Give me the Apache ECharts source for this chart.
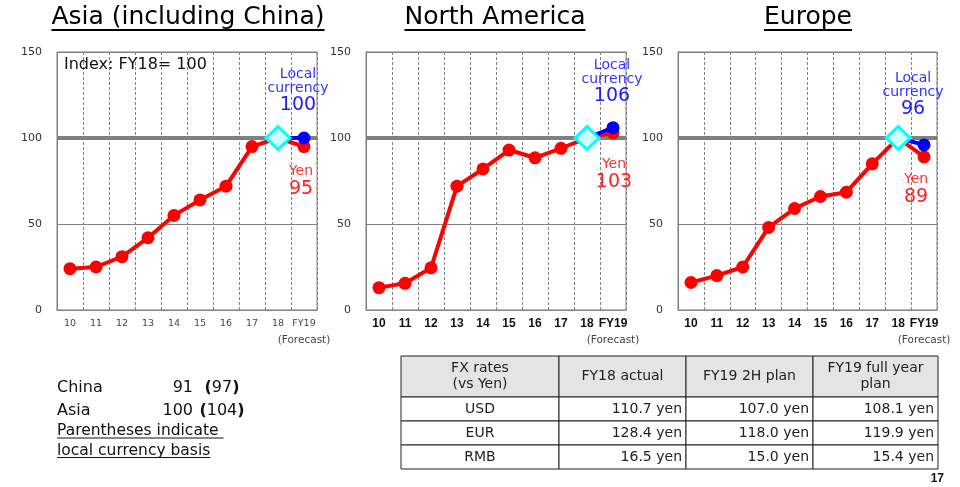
<!DOCTYPE html>
<html><head><meta charset="utf-8">
<script src="https://cdn.jsdelivr.net/npm/echarts@6/dist/echarts.min.js"></script>
<style>html,body{margin:0;padding:0;background:#fff}#c{width:960px;height:487px}</style>
</head><body><div id="c"></div>
<script>
// ---------- data ----------
const categories = ['10','11','12','13','14','15','16','17','18','FY19'];
const forecastNote = '(Forecast)';
const indexBase = 100;
const asiaYen   = [24, 25, 31, 42, 55, 64, 72, 95, 100, 95];
const asiaLocal = [null, null, null, null, null, null, null, null, 100, 100];
const naYen     = [13, 15.5, 24.5, 72, 82, 93, 88.5, 94, 100, 103];
const naLocal   = [null, null, null, null, null, null, null, null, 100, 106];
const euYen     = [16, 20, 25, 48, 59, 66, 68.5, 85, 100, 89];
const euLocal   = [null, null, null, null, null, null, null, null, 100, 96];
const panelTitles = ['Asia (including China)', 'North America', 'Europe'];
const yMin = 0, yMax = 150, yInterval = 50;
const indexNote = 'Index: FY18= 100';
const localLabelText = ['Local', 'currency'];
const yenLabelText = 'Yen';

const fxHeader = ['FX rates\n(vs Yen)', 'FY18 actual', 'FY19 2H plan', 'FY19 full year\nplan'];
const fxCurrencies = ['USD', 'EUR', 'RMB'];
const fy18Actual = ['110.7 yen', '128.4 yen', '16.5 yen'];
const fy19H2Plan = ['107.0 yen', '118.0 yen', '15.0 yen'];
const fy19FullPlan = ['108.1 yen', '119.9 yen', '15.4 yen'];

const noteRegions = ['China', 'Asia'];
const noteYen = [91, 100];
const noteLocal = [97, 104];
const noteLines = ['Parentheses indicate ', 'local currency basis'];
const pageNumber = '17';

// ---------- layout / style ----------
const FONT = 'DejaVu Sans';
const panels = [
  {yen: asiaYen, local: asiaLocal, left: 57, width: 260, titleCenter: 188, boldX: false,
   localOff: [-6, 0], localDist: 16, yenOff: [-3, 0], yenDist: 10},
  {yen: naYen, local: naLocal, left: 366, width: 260, titleCenter: 495, boldX: true,
   localOff: [-1, 0], localDist: 15, yenOff: [1, 0], yenDist: 17},
  {yen: euYen, local: euLocal, left: 678, width: 259, titleCenter: 808, boldX: true,
   localOff: [-11, 0], localDist: 19, yenOff: [-8, 0], yenDist: 8}
];
const gridTop = 52, gridHeight = 258;

const mctx = document.createElement('canvas').getContext('2d');
function tw(text, font) { mctx.font = font; return mctx.measureText(text).width; }

const grids = [], xAxes = [], yAxes = [], series = [], graphics = [];

panels.forEach((p, i) => {
  grids.push({left: p.left, top: gridTop, width: p.width, height: gridHeight,
    show: true, borderColor: '#808080', borderWidth: 1, backgroundColor: 'transparent'});
  const xLabel = p.boldX
    ? {fontSize: 12, fontWeight: 'bold', color: '#111', fontFamily: 'Liberation Sans Narrow, Liberation Sans, sans-serif'}
    : {fontSize: 9.5, color: '#444', fontFamily: FONT};
  xAxes.push({
    type: 'category', gridIndex: i, data: categories, boundaryGap: true,
    axisTick: {show: false},
    axisLine: {show: true, lineStyle: {color: '#808080', width: 1}},
    splitLine: {show: true, lineStyle: {color: '#808080', width: 1, type: [3, 2]}},
    axisLabel: Object.assign({
      interval: 0, margin: 6, lineHeight: 16,
      formatter: v => v === categories[categories.length - 1] ? v + '\n{f|' + forecastNote + '}' : v,
      rich: {f: {fontSize: 10.5, fontWeight: 'normal', color: '#444', fontFamily: FONT, lineHeight: 16}}
    }, xLabel)
  });
  yAxes.push({
    type: 'value', gridIndex: i, min: yMin, max: yMax, interval: yInterval,
    axisTick: {show: false},
    axisLine: {show: true, lineStyle: {color: '#808080'}},
    splitLine: {show: true, lineStyle: {color: '#808080', width: 1}},
    axisLabel: {fontSize: 11, color: '#333', fontFamily: FONT, margin: 15}
  });
  const last = categories.length - 1;
  const yenData = p.yen.map((v, k) => k === last ? {value: v, label: {
    show: true, position: 'bottom', distance: p.yenDist, offset: p.yenOff,
    formatter: '{y|' + yenLabelText + '}\n{v|' + v + '}',
    rich: {y: {fontSize: 14, color: '#ff3333', fontFamily: FONT, lineHeight: 16},
           v: {fontSize: 19, color: '#ff2020', fontFamily: FONT, lineHeight: 20}}
  }} : v);
  const localData = p.local.map((v, k) => k === last ? {value: v, label: {
    show: true, position: 'top', distance: p.localDist, offset: p.localOff,
    formatter: localLabelText.map(t => '{a|' + t + '}').join('\n') + '\n{b|' + v + '}',
    rich: {a: {fontSize: 14, color: '#3333ff', fontFamily: FONT, lineHeight: 14},
           b: {fontSize: 19, color: '#2020ff', fontFamily: FONT, lineHeight: 20}}
  }} : v);
  series.push({
    type: 'line', xAxisIndex: i, yAxisIndex: i, data: yenData, z: 3,
    symbol: 'circle', symbolSize: 13, showSymbol: true,
    lineStyle: {color: '#ff0000', width: 4}, itemStyle: {color: '#ff0000'},
    markLine: {silent: true, symbol: 'none', z: 1, label: {show: false},
      lineStyle: {color: '#808080', width: 4, type: 'solid'}, data: [{yAxis: indexBase}]}
  });
  series.push({
    type: 'line', xAxisIndex: i, yAxisIndex: i, data: localData, z: 4,
    symbol: 'circle', symbolSize: 13, connectNulls: false,
    lineStyle: {color: '#0000ff', width: 4}, itemStyle: {color: '#0000ff'}
  });
  const baseIdx = categories.indexOf('18');
  series.push({
    type: 'scatter', xAxisIndex: i, yAxisIndex: i, z: 5,
    data: [[baseIdx, p.yen[baseIdx]]],
    symbol: 'diamond', symbolSize: [24, 23],
    itemStyle: {color: '#ccffff', borderColor: '#00ffff', borderWidth: 3, opacity: 1}
  });
  // title with underline
  const tFont = '25px ' + FONT;
  const w = tw(panelTitles[i], tFont);
  graphics.push({type: 'text', x: p.titleCenter, y: 17, style: {text: panelTitles[i], font: tFont, fill: '#000',
    align: 'center', verticalAlign: 'middle', textAlign: 'center', textVerticalAlign: 'middle'}});
  graphics.push({type: 'line', shape: {x1: p.titleCenter - w / 2, y1: 30, x2: p.titleCenter + w / 2, y2: 30},
    style: {stroke: '#000', lineWidth: 2}});
});

graphics.push({type: 'text', x: 64, y: 65, z: 10, style: {text: indexNote, font: '16px ' + FONT, fill: '#111',
  align: 'left', verticalAlign: 'middle', textAlign: 'left', textVerticalAlign: 'middle'}});

// ---------- bottom-left notes ----------
const nFont = '16px ' + FONT;
noteRegions.forEach((r, k) => {
  const y = 388 + k * 22.5;
  graphics.push({type: 'text', x: 57, y, style: {text: r, font: nFont, fill: '#111',
    align: 'left', verticalAlign: 'middle', textAlign: 'left', textVerticalAlign: 'middle'}});
  graphics.push({type: 'text', x: 193, y, style: {text: String(noteYen[k]), font: nFont, fill: '#111',
    align: 'right', verticalAlign: 'middle', textAlign: 'right', textVerticalAlign: 'middle'}});
  graphics.push({type: 'text', x: 222, y, style: {text: '{p|(}' + noteLocal[k] + '{p|)}', font: nFont, fill: '#111',
    rich: {p: {fontWeight: 'bold', fontSize: 16, fontFamily: FONT, fill: '#111'}},
    align: 'center', verticalAlign: 'middle', textAlign: 'center', textVerticalAlign: 'middle'}});
});
noteLines.forEach((t, k) => {
  const y = 431 + k * 19.5;
  graphics.push({type: 'text', x: 57, y, style: {text: t, font: '15.5px ' + FONT, fill: '#111',
    align: 'left', verticalAlign: 'middle', textAlign: 'left', textVerticalAlign: 'middle'}});
  const w = tw(t, '15.5px ' + FONT);
  graphics.push({type: 'line', shape: {x1: 57, y1: y + 7, x2: 57 + w, y2: y + 7}, style: {stroke: '#111', lineWidth: 1}});
});

// ---------- FX table ----------
const colX = [401, 559, 686, 813, 938];
const rowY = [356, 397, 421, 445, 469];
const tFontT = '14px ' + FONT;
const tableCols = [fxCurrencies, fy18Actual, fy19H2Plan, fy19FullPlan];
for (let c = 0; c < 4; c++) {
  graphics.push({type: 'rect', shape: {x: colX[c], y: rowY[0], width: colX[c + 1] - colX[c], height: rowY[1] - rowY[0]},
    style: {fill: '#e4e4e4', stroke: '#222', lineWidth: 1}});
  graphics.push({type: 'text', x: (colX[c] + colX[c + 1]) / 2, y: (rowY[0] + rowY[1]) / 2,
    style: {text: fxHeader[c], font: tFontT, fill: '#222', lineHeight: 16,
      align: 'center', verticalAlign: 'middle', textAlign: 'center', textVerticalAlign: 'middle'}});
  for (let r = 0; r < fxCurrencies.length; r++) {
    graphics.push({type: 'rect', shape: {x: colX[c], y: rowY[r + 1], width: colX[c + 1] - colX[c], height: rowY[r + 2] - rowY[r + 1]},
      style: {fill: '#fff', stroke: '#222', lineWidth: 1}});
    const txt = tableCols[c][r];
    const center = c === 0;
    graphics.push({type: 'text', x: center ? (colX[c] + colX[c + 1]) / 2 : colX[c + 1] - 4, y: (rowY[r + 1] + rowY[r + 2]) / 2 + 0.5,
      style: {text: txt, font: tFontT, fill: '#222',
        align: center ? 'center' : 'right', verticalAlign: 'middle',
        textAlign: center ? 'center' : 'right', textVerticalAlign: 'middle'}});
  }
}
graphics.push({type: 'text', x: 944, y: 479, style: {text: pageNumber, font: 'bold 12px Liberation Sans', fill: '#111',
  align: 'right', verticalAlign: 'middle', textAlign: 'right', textVerticalAlign: 'middle'}});

const chart = echarts.init(document.getElementById('c'), null, {renderer: 'canvas'});
chart.setOption({
  animation: false,
  backgroundColor: '#fff',
  textStyle: {fontFamily: FONT},
  grid: grids, xAxis: xAxes, yAxis: yAxes, series: series,
  graphic: {elements: graphics}
});
</script></body></html>
